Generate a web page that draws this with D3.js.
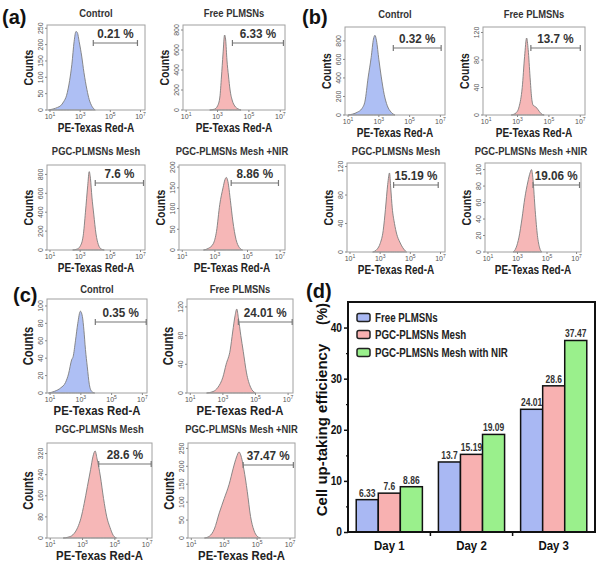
<!DOCTYPE html>
<html><head><meta charset="utf-8">
<script src="https://cdn.jsdelivr.net/npm/d3@7"></script>
<style>body{margin:0;background:#fff} svg{display:block}</style>
</head><body><svg id="c" width="600" height="563"></svg>
<script>
// ---------- DATA ----------
const panelTitles = ["Control", "Free PLMSNs", "PGC-PLMSNs Mesh", "PGC-PLMSNs Mesh +NIR"];
const xTickExps = [1, 3, 5, 7];
// histogram curves: [log10 intensity, counts]
const a_ctrl = [[0.9,0],[1.2,3],[1.5,8],[1.7,13],[1.9,25],[2.1,45],[2.3,90],[2.45,140],[2.6,210],[2.72,240],[2.8,238],[2.95,205],[3.1,165],[3.25,115],[3.45,62],[3.6,32],[3.8,10],[4.0,0]];
const a_free = [[2.5,0],[2.8,8],[3.0,40],[3.15,130],[3.25,330],[3.35,560],[3.45,750],[3.52,700],[3.6,500],[3.7,340],[3.8,200],[3.95,90],[4.1,40],[4.3,12],[4.5,0]];
const a_mesh = [[2.5,0],[2.8,10],[3.0,40],[3.2,150],[3.35,400],[3.5,680],[3.6,830],[3.68,760],[3.78,560],[3.9,380],[4.05,170],[4.2,60],[4.4,10],[4.6,0]];
const a_nir  = [[2.3,0],[2.6,4],[2.9,15],[3.1,45],[3.3,110],[3.5,150],[3.62,170],[3.7,175],[3.8,165],[3.95,120],[4.1,70],[4.3,25],[4.5,6],[4.7,0]];
const b_ctrl = [[1.0,0],[1.3,10],[1.6,30],[1.9,70],[2.1,150],[2.3,400],[2.5,620],[2.65,820],[2.75,860],[2.85,800],[3.0,600],[3.15,420],[3.35,220],[3.55,100],[3.8,30],[4.05,0]];
const b_free = [[2.6,0],[2.9,3],[3.1,12],[3.3,40],[3.45,85],[3.58,112],[3.68,95],[3.8,55],[3.9,25],[4.0,14],[4.15,12],[4.3,8],[4.5,2],[4.7,0]];
const b_mesh = [[2.5,0],[2.8,4],[3.0,12],[3.2,30],[3.35,60],[3.5,95],[3.62,111],[3.7,90],[3.8,62],[3.95,40],[4.1,25],[4.3,14],[4.5,6],[4.75,0]];
const b_nir  = [[2.7,0],[2.9,5],[3.1,18],[3.3,40],[3.5,66],[3.7,85],[3.85,96],[3.95,100],[4.05,88],[4.2,50],[4.35,20],[4.5,5],[4.65,0]];
const c_ctrl = [[0.9,0],[1.3,2],[1.7,6],[2.0,12],[2.2,22],[2.4,38],[2.5,42],[2.65,60],[2.8,80],[2.97,94],[3.1,88],[3.2,72],[3.3,50],[3.42,30],[3.55,10],[3.7,2],[3.9,0]];
const c_free = [[2.0,0],[2.4,2],[2.7,8],[3.0,22],[3.2,40],[3.45,60],[3.6,85],[3.75,108],[3.85,117],[3.95,105],[4.1,80],[4.25,58],[4.45,28],[4.7,8],[5.0,0]];
const c_mesh = [[1.8,0],[2.1,3],[2.4,12],[2.7,40],[2.9,75],[3.1,130],[3.3,195],[3.5,260],[3.65,310],[3.78,330],[3.9,300],[4.1,235],[4.3,150],[4.5,80],[4.7,40],[4.9,10],[5.1,0]];
const c_nir  = [[1.8,0],[2.1,5],[2.4,25],[2.7,70],[3.0,110],[3.3,150],[3.55,195],[3.75,226],[3.9,240],[4.0,232],[4.2,190],[4.4,130],[4.6,60],[4.8,22],[5.0,5],[5.2,0]];
// y-axis ticks / max per panel
const a_yTicks = [[0,50,100,150,200,250],[0,200,400,600,800],[0,200,400,600,800],[0,50,100,150,200]];
const a_yMax = [260, 850, 900, 205];
const b_yTicks = [[0,200,400,600,800],[0,40,80,120],[0,40,80,120],[0,20,40,60,80,100]];
const b_yMax = [950, 128, 125, 108];
const c_yTicks = [[0,20,40,60,80,100],[0,40,80,120],[0,80,160,240,320],[0,50,100,150,200,250]];
const c_yMax = [108, 131, 360, 265];
// gated percentages and gate limits (log10)
const a_pct = [0.21, 6.33, 7.6, 8.86];
const b_pct = [0.32, 13.7, 15.19, 19.06];
const c_pct = [0.35, 24.01, 28.6, 37.47];
const a_gate = [[3.87,6.8],[3.95,7.2],[4.0,7.2],[4.0,6.9]];
const b_gate = [[3.94,7.05],[3.85,7.0],[3.89,6.85],[4.05,7.2]];
const c_gate = [[3.94,7.25],[3.95,7.25],[4.0,7.25],[4.15,7.2]];
// bar chart (d)
const days = ["Day 1", "Day 2", "Day 3"];
const groups = ["Free PLMSNs", "PGC-PLMSNs Mesh", "PGC-PLMSNs Mesh with NIR"];
const freeVals = [6.33, 13.7, 24.01];
const meshVals = [7.6, 15.19, 28.6];
const nirVals  = [8.86, 19.09, 37.47];
const barYTicks = [0, 10, 20, 30, 40];

// ---------- LAYOUT ----------
const svg = d3.select("#c");
const SANS = "'Liberation Sans',Arial,sans-serif";
const BLUE_H = "#aebff4", RED_H = "#f6b7b7";

// condense text horizontally (emulates a narrow face)
function fit(sel, f) {
  sel.each(function () {
    const w = this.getComputedTextLength();
    d3.select(this).attr("textLength", w * f).attr("lengthAdjust", "spacingAndGlyphs");
  });
  return sel;
}

const layouts = {
  a: [{x0:47,x1:145,y0:25,y1:110,ty:17,gy:43},{x0:183,x1:285,y0:25,y1:110,ty:17,gy:43},
      {x0:47,x1:145,y0:165,y1:250,ty:155,gy:183},{x0:179,x1:285,y0:165,y1:250,ty:155,gy:183}],
  b: [{x0:345,x1:445,y0:27,y1:115,ty:18,gy:48},{x0:483,x1:585,y0:27,y1:115,ty:18,gy:48},
      {x0:347,x1:445,y0:163,y1:252,ty:155,gy:185},{x0:485,x1:581,y0:163,y1:252,ty:155,gy:185,tx:531}],
  c: [{x0:47,x1:147,y0:299,y1:393,ty:293,gy:322},{x0:187,x1:293,y0:299,y1:393,ty:293,gy:322},
      {x0:47,x1:152,y0:443,y1:538,ty:433,gy:464},{x0:188,x1:295,y0:443,y1:538,ty:433,gy:465}]
};
const sets = {
  a: {hists:[a_ctrl,a_free,a_mesh,a_nir], yT:a_yTicks, yM:a_yMax, pct:a_pct, gate:a_gate},
  b: {hists:[b_ctrl,b_free,b_mesh,b_nir], yT:b_yTicks, yM:b_yMax, pct:b_pct, gate:b_gate},
  c: {hists:[c_ctrl,c_free,c_mesh,c_nir], yT:c_yTicks, yM:c_yMax, pct:c_pct, gate:c_gate}
};

function histPanel(L, data, yTicks, yMax, pct, gate, title, isCtrl, big) {
  const g = svg.append("g");
  const x = d3.scaleLog().domain([10**0.8, 10**7.3]).range([L.x0, L.x1]);
  const y = d3.scaleLinear().domain([0, yMax]).range([L.y1, L.y0]);
  // title
  fit(g.append("text").attr("x", L.tx || (L.x0+L.x1)/2).attr("y", L.ty).attr("text-anchor","middle")
    .attr("font-family", SANS).attr("font-weight","bold").attr("font-size", 10).attr("fill","#333").text(title), 0.94);
  // area
  const area = d3.area().x(d => x(10**d[0])).y0(y(0)).y1(d => y(d[1])).curve(d3.curveMonotoneX);
  g.append("path").datum(data).attr("d", area)
    .attr("fill", isCtrl ? BLUE_H : RED_H).attr("stroke","#7d7d7d").attr("stroke-width",0.9);
  // frame
  g.append("rect").attr("x",L.x0).attr("y",L.y0).attr("width",L.x1-L.x0).attr("height",L.y1-L.y0)
    .attr("fill","none").attr("stroke","#a0a0a0").attr("stroke-width",1);
  // y ticks
  yTicks.forEach(v => {
    g.append("line").attr("x1",L.x0-2).attr("x2",L.x0).attr("y1",y(v)).attr("y2",y(v)).attr("stroke","#888");
    g.append("text").attr("transform",`translate(${L.x0-4},${y(v)}) rotate(-90)`).attr("text-anchor","middle")
      .attr("font-family",SANS).attr("font-size",7).attr("fill","#555").text(v);
  });
  // x ticks
  xTickExps.forEach(e => {
    const xx = x(10**e);
    g.append("line").attr("x1",xx).attr("x2",xx).attr("y1",L.y1).attr("y2",L.y1+2).attr("stroke","#888");
    const t = g.append("text").attr("x",xx).attr("y",L.y1+8.5).attr("text-anchor","middle")
      .attr("font-family",SANS).attr("font-size",7).attr("fill","#555");
    t.append("tspan").text("10");
    t.append("tspan").attr("dy",-3).attr("font-size",5).text(e);
  });
  // axis labels
  fit(g.append("text").attr("x",(L.x0+L.x1)/2).attr("y",L.y1+(big?22:21.5)).attr("text-anchor","middle")
    .attr("font-family",SANS).attr("font-weight","bold").attr("font-size",big?13.5:12.5).attr("fill","#222").text("PE-Texas Red-A"), big?0.84:0.8);
  fit(g.append("text").attr("transform",`translate(${L.x0-14},${(L.y0+L.y1)/2}) rotate(-90)`).attr("text-anchor","middle")
    .attr("font-family",SANS).attr("font-weight","bold").attr("font-size",big?14:13).attr("fill","#222").text("Counts"), 0.8);
  // gate
  const gx0 = x(10**gate[0]), gx1 = x(10**gate[1]);
  g.append("line").attr("x1",gx0).attr("x2",gx1).attr("y1",L.gy).attr("y2",L.gy).attr("stroke","#777").attr("stroke-width",1.2);
  [gx0,gx1].forEach(xx => g.append("line").attr("x1",xx).attr("x2",xx).attr("y1",L.gy-3).attr("y2",L.gy+3).attr("stroke","#777").attr("stroke-width",1.2));
  fit(g.append("text").attr("x",(gx0+gx1)/2).attr("y",L.gy-5).attr("text-anchor","middle")
    .attr("font-family",SANS).attr("font-weight","bold").attr("font-size",13).attr("fill","#333").text(pct + " %"), 0.9);
}

["a","b","c"].forEach(k => {
  const S = sets[k];
  layouts[k].forEach((L, i) => histPanel(L, S.hists[i], S.yT[i], S.yM[i], S.pct[i], S.gate[i], panelTitles[i], i===0, k==="c"));
});

// panel letters
[["(a)",2,24],["(b)",302,24],["(c)",13,302],["(d)",306,298]].forEach(d => {
  svg.append("text").attr("x",d[1]).attr("y",d[2]).attr("font-family",SANS).attr("font-weight","bold")
    .attr("font-size",20).attr("fill","#111").text(d[0]);
});

// ---------- BAR CHART (d) ----------
const B = {x0:348, x1:595, y0:302, y1:532};
const bx = d3.scaleBand().domain(days).range([B.x0, B.x1]).paddingInner(0.195).paddingOuter(0.1);
const bsub = d3.scaleBand().domain(groups).range([0, bx.bandwidth()]);
const by = d3.scaleLinear().domain([0, 45]).range([B.y1, B.y0]);
const barColors = ["#a9b8f3", "#f8b1b1", "#9af08c"];
const seriesVals = [freeVals, meshVals, nirVals];
const gB = svg.append("g");
days.forEach((d, di) => {
  groups.forEach((s, si) => {
    const v = seriesVals[si][di];
    const xx = bx(d) + bsub(s);
    gB.append("rect").attr("x",xx).attr("y",by(v)).attr("width",bsub.bandwidth()).attr("height",by(0)-by(v))
      .attr("fill",barColors[si]).attr("stroke","#111").attr("stroke-width",1.5);
    fit(gB.append("text").attr("x",xx+bsub.bandwidth()/2).attr("y",by(v)-3).attr("text-anchor","middle")
      .attr("font-family",SANS).attr("font-weight","bold").attr("font-size",10).attr("fill","#333").text(v), 0.85);
  });
});
// frame
gB.append("rect").attr("x",B.x0).attr("y",B.y0).attr("width",B.x1-B.x0).attr("height",B.y1-B.y0)
  .attr("fill","none").attr("stroke","#111").attr("stroke-width",2);
// y axis
const yAx = d3.axisLeft(by).tickValues(barYTicks).tickSize(4).tickPadding(2);
const ya = gB.append("g").attr("transform",`translate(${B.x0},0)`).call(yAx);
ya.select(".domain").remove();
ya.selectAll("line").attr("stroke","#111").attr("stroke-width",1.5);
fit(ya.selectAll("text").attr("font-family",SANS).attr("font-weight","bold").attr("font-size",12).attr("fill","#111"), 0.85);
const yMinor = d3.axisLeft(by).tickValues([5,15,25,35]).tickSize(2).tickFormat("");
const ym = gB.append("g").attr("transform",`translate(${B.x0},0)`).call(yMinor);
ym.select(".domain").remove();
ym.selectAll("line").attr("stroke","#111").attr("stroke-width",1.2);
// x axis
const xAx = d3.axisBottom(bx).tickSize(0).tickPadding(9);
const xa = gB.append("g").attr("transform",`translate(0,${B.y1})`).call(xAx);
xa.select(".domain").remove();
fit(xa.selectAll("text").attr("font-family",SANS).attr("font-weight","bold").attr("font-size",13).attr("fill","#111"), 0.88);
// boundary ticks between groups
[days[1], days[2]].forEach(d => {
  const xx = bx(d) - bx.step()*bx.paddingInner()/2;
  gB.append("line").attr("x1",xx).attr("x2",xx).attr("y1",B.y1).attr("y2",B.y1+4).attr("stroke","#111").attr("stroke-width",1.5);
});
// y label
gB.append("text").attr("transform",`translate(327,430) rotate(-90)`).attr("text-anchor","middle")
  .attr("font-family",SANS).attr("font-weight","bold").attr("font-size",15).attr("fill","#111").text("Cell up-taking efficiency");
gB.append("text").attr("transform",`translate(327,314) rotate(-90)`).attr("text-anchor","middle")
  .attr("font-family",SANS).attr("font-weight","bold").attr("font-size",14).attr("fill","#111").text("(%)");
// legend
groups.forEach((s, i) => {
  const cy = [317.5, 334.5, 352.5][i];
  gB.append("rect").attr("x",357).attr("y",cy-4).attr("width",13).attr("height",8).attr("rx",2)
    .attr("fill",barColors[i]).attr("stroke","#222").attr("stroke-width",1.5);
  fit(gB.append("text").attr("x",375).attr("y",cy+4.5).attr("font-family",SANS).attr("font-weight","bold")
    .attr("font-size",12).attr("fill","#222").text(s), 0.81);
});
</script></body></html>
